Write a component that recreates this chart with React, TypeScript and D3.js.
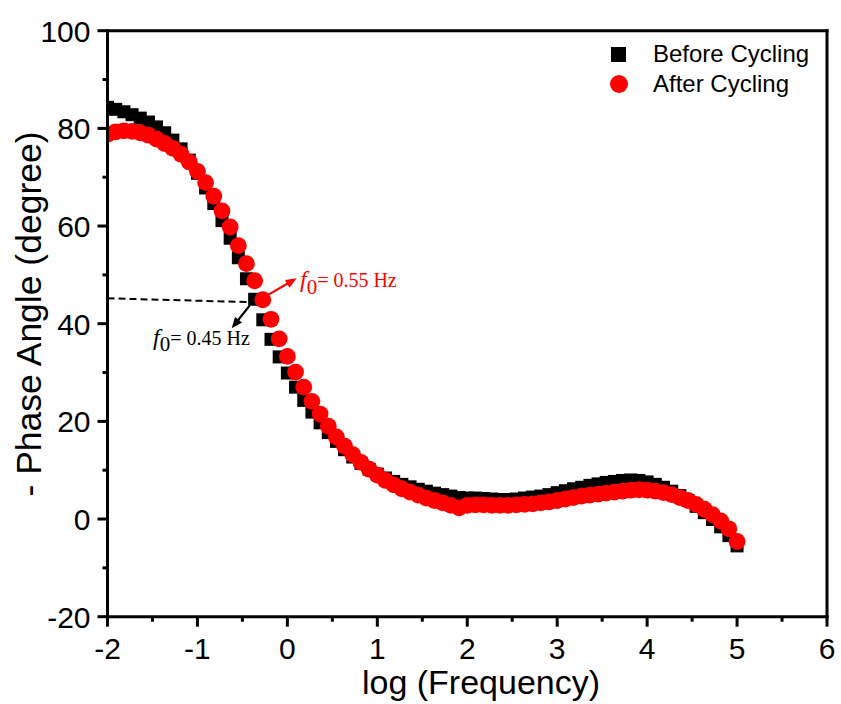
import React from 'react';
import * as d3 from 'd3';

// log10 of the measurement frequency (Hz), 11 points per decade
const logFreq = [
  -2.000, -1.909, -1.818, -1.727, -1.636, -1.545, -1.455, -1.364, -1.273, -1.182, -1.091,
  -1.000, -0.909, -0.818, -0.727, -0.636, -0.545, -0.455, -0.364, -0.273, -0.182, -0.091,
  0.000, 0.091, 0.182, 0.273, 0.364, 0.455, 0.545, 0.636, 0.727, 0.818, 0.909,
  1.000, 1.091, 1.182, 1.273, 1.364, 1.455, 1.545, 1.636, 1.727, 1.818, 1.909,
  2.000, 2.091, 2.182, 2.273, 2.364, 2.455, 2.545, 2.636, 2.727, 2.818, 2.909,
  3.000, 3.091, 3.182, 3.273, 3.364, 3.455, 3.545, 3.636, 3.727, 3.818, 3.909,
  4.000, 4.091, 4.182, 4.273, 4.364, 4.455, 4.545, 4.636, 4.727, 4.818, 4.909,
  5.000,
];

// -Phase angle (degree) before cycling
const beforeCycling = [
  84.3, 83.9, 83.4, 82.8, 82.1, 81.3, 80.3, 79.1, 77.6, 75.8, 73.5,
  70.8, 67.8, 64.6, 61.1, 57.5, 53.5, 49.2, 45.0, 40.8, 36.8, 33.2,
  29.9, 27.0, 24.3, 21.9, 19.7, 17.7, 15.9, 14.2, 12.7, 11.4, 10.2,
  9.2, 8.4, 7.7, 7.1, 6.6, 6.1, 5.7, 5.3, 5.0, 4.7, 4.4,
  4.3, 4.3, 4.2, 4.1, 4.0, 4.0, 4.1, 4.3, 4.5, 4.7, 5.0,
  5.4, 5.8, 6.2, 6.5, 6.9, 7.2, 7.5, 7.7, 7.9, 8.0, 7.9,
  7.6, 7.1, 6.5, 5.7, 4.8, 3.8, 2.6, 1.3, -0.1, -1.6, -3.4,
  -5.5,
];

// -Phase angle (degree) after cycling
const afterCycling = [
  78.8, 79.3, 79.5, 79.4, 79.1, 78.6, 77.8, 76.9, 75.9, 74.7, 73.1,
  71.2, 68.9, 66.1, 63.1, 59.8, 56.0, 52.3, 48.8, 44.9, 40.9, 36.9,
  33.3, 30.1, 27.0, 24.1, 21.5, 19.0, 16.8, 14.9, 13.2, 11.6, 10.2,
  9.0, 7.9, 7.0, 6.2, 5.5, 4.9, 4.3, 3.8, 3.3, 2.8, 2.3,
  2.8, 2.9, 2.9, 2.8, 2.8, 2.8, 2.9, 3.0, 3.1, 3.3, 3.5,
  3.8, 4.1, 4.4, 4.7, 4.9, 5.1, 5.3, 5.5, 5.7, 5.9, 6.0,
  5.9, 5.7, 5.4, 5.0, 4.4, 3.8, 3.0, 2.0, 0.9, -0.4, -2.0,
  -4.6,
];

const xMajorTicks = [-2, -1, 0, 1, 2, 3, 4, 5, 6];
const xMinorTicks = [-1.5, -0.5, 0.5, 1.5, 2.5, 3.5, 4.5, 5.5];
const yMajorTicks = [-20, 0, 20, 40, 60, 80, 100];
const yMinorTicks = [-10, 10, 30, 50, 70, 90];
const seriesNames = ['Before Cycling', 'After Cycling'];

// characteristic frequency annotations (data coordinates)
const guideLine = { x1: -2, y1: 45.2, x2: -0.38, y2: 44.4 };
const afterArrow = { x1: -0.215, y1: 45.9, x2: 0.104, y2: 49.3 };
const beforeArrow = { x1: -0.416, y1: 43.8, x2: -0.619, y2: 39.05 };
const afterLabel = { x: 0.14, y: 47.5, text: '= 0.55 Hz' };
const beforeLabel = { x: -1.494, y: 35.6, text: '= 0.45 Hz' };

const W = 841;
const H = 704;
const sans = '"Liberation Sans", Arial, sans-serif';
const serif = '"Liberation Serif", "Times New Roman", serif';
const RED = '#ff0000';

type Seg = { x1: number; y1: number; x2: number; y2: number };

export default function App() {
  const x = d3.scaleLinear().domain([-2, 6]).range([107.5, 827]);
  const y = d3.scaleLinear().domain([-20, 100]).range([616.7, 30.7]);
  const [x0, x1] = x.range();
  const [yb, yt] = y.range();

  const sq = 13;
  const r = 8.4;

  const arrow = (a: Seg) => {
    const sx = x(a.x1), sy = y(a.y1), ex = x(a.x2), ey = y(a.y2);
    const ang = Math.atan2(ey - sy, ex - sx);
    const len = 11, half = 4.5;
    const bx = ex - len * Math.cos(ang), by = ey - len * Math.sin(ang);
    const px = -Math.sin(ang) * half, py = Math.cos(ang) * half;
    return {
      line: [sx, sy, bx + 2 * Math.cos(ang), by + 2 * Math.sin(ang)],
      head: `M${ex},${ey} L${bx + px},${by + py} L${bx - px},${by - py} Z`,
    };
  };

  const ra = arrow(afterArrow);
  const ba = arrow(beforeArrow);

  return (
    <svg width={W} height={H} style={{ position: 'absolute', left: 0, top: 0, background: '#fff' }}>
      <defs>
        <clipPath id="plot-clip">
          <rect x={x0} y={yt} width={x1 - x0} height={yb - yt} />
        </clipPath>
      </defs>
      <rect x={0} y={0} width={W} height={H} fill="#fff" />

      {/* data */}
      <g clipPath="url(#plot-clip)">
        {logFreq.map((f, i) => (
          <rect key={`b${i}`} x={x(f) - sq / 2} y={y(beforeCycling[i]) - sq / 2} width={sq} height={sq} fill="#000" />
        ))}
        {logFreq.map((f, i) => (
          <circle key={`a${i}`} cx={x(f)} cy={y(afterCycling[i])} r={r} fill={RED} />
        ))}
      </g>

      {/* 45 degree guide and arrows */}
      <line
        x1={x(guideLine.x1)} y1={y(guideLine.y1)} x2={x(guideLine.x2)} y2={y(guideLine.y2)}
        stroke="#000" strokeWidth={2} strokeDasharray="7,4"
      />
      <line x1={ra.line[0]} y1={ra.line[1]} x2={ra.line[2]} y2={ra.line[3]} stroke={RED} strokeWidth={2.2} />
      <path d={ra.head} fill={RED} />
      <line x1={ba.line[0]} y1={ba.line[1]} x2={ba.line[2]} y2={ba.line[3]} stroke="#000" strokeWidth={2.2} />
      <path d={ba.head} fill="#000" />

      <text x={x(afterLabel.x)} y={y(afterLabel.y)} fontFamily={serif} fontSize={20} fill={RED}>
        <tspan fontStyle="italic" fontSize={24}>f</tspan>
        <tspan dy={7} fontSize={21}>0</tspan>
        <tspan dy={-7}>{afterLabel.text}</tspan>
      </text>
      <text x={x(beforeLabel.x)} y={y(beforeLabel.y)} fontFamily={serif} fontSize={20} fill="#000">
        <tspan fontStyle="italic" fontSize={24}>f</tspan>
        <tspan dy={6} fontSize={21}>0</tspan>
        <tspan dy={-6}>{beforeLabel.text}</tspan>
      </text>

      {/* frame */}
      <g stroke="#000" strokeWidth={3} strokeLinecap="square">
        <line x1={x0} y1={yt} x2={x1} y2={yt} />
        <line x1={x1} y1={yt} x2={x1} y2={yb} />
        <line x1={x0} y1={yb} x2={x1} y2={yb} />
        <line x1={x0} y1={yt} x2={x0} y2={yb} />
      </g>

      {/* ticks */}
      <g stroke="#000" strokeWidth={3}>
        {xMajorTicks.map((t) => (
          <line key={`xm${t}`} x1={x(t)} x2={x(t)} y1={yb} y2={yb + 10} />
        ))}
        {xMinorTicks.map((t) => (
          <line key={`xn${t}`} x1={x(t)} x2={x(t)} y1={yb} y2={yb + 5} />
        ))}
        {yMajorTicks.map((t) => (
          <line key={`ym${t}`} x1={x0} x2={x0 - 10} y1={y(t)} y2={y(t)} />
        ))}
        {yMinorTicks.map((t) => (
          <line key={`yn${t}`} x1={x0} x2={x0 - 5} y1={y(t)} y2={y(t)} />
        ))}
      </g>
      <g fontFamily={sans} fontSize={30} fill="#000">
        {xMajorTicks.map((t) => (
          <text key={`xl${t}`} x={x(t)} y={yb + 42} textAnchor="middle">{String(t)}</text>
        ))}
        {yMajorTicks.map((t) => (
          <text key={`yl${t}`} x={x0 - 17} y={y(t) + 11} textAnchor="end">{String(t)}</text>
        ))}
      </g>

      <text x={481} y={694} textAnchor="middle" fontFamily={sans} fontSize={34} fill="#000">log (Frequency)</text>
      <text
        transform="translate(41, 314) rotate(-90)"
        textAnchor="middle" fontFamily={sans} fontSize={35.5} fill="#000"
      >- Phase Angle (degree)</text>

      {/* legend */}
      <rect x={611} y={47} width={15} height={15} fill="#000" />
      <text x={653} y={62} fontFamily={sans} fontSize={24} fill="#000">{seriesNames[0]}</text>
      <circle cx={619} cy={84} r={9} fill={RED} />
      <text x={653} y={92} fontFamily={sans} fontSize={24} fill="#000">{seriesNames[1]}</text>
    </svg>
  );
}
